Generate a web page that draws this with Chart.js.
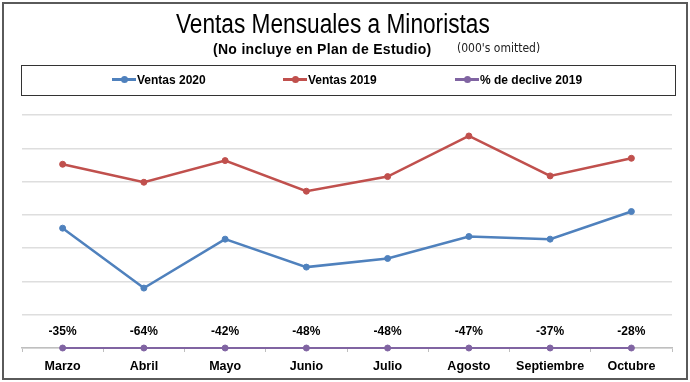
<!DOCTYPE html>
<html>
<head>
<meta charset="utf-8">
<script src="https://cdn.jsdelivr.net/npm/chart.js@4.4.0/dist/chart.umd.min.js"></script>
<style>
  body { margin: 0; background: #fff; }
  #marco { position: relative; width: 690px; height: 382px; overflow: hidden; font-family: 'Liberation Sans', Arial, sans-serif; }
  #borde { position: absolute; left: 2px; top: 2px; width: 682px; height: 374px; border: 2px solid #5a5a5a; }
  #titulo { position: absolute; left: 0; top: 9px; width: 666px; text-align: center; }
  #titulo span { display: inline-block; font-size: 27px; color: #000; transform: scaleX(0.84); }
  #subtitulo { position: absolute; left: 213px; top: 41px; font-weight: bold; font-size: 14px; letter-spacing: 0.3px; color: #000; }
  #omitido { position: absolute; left: 457px; top: 41px; font-family: 'Liberation Sans Narrow', 'DejaVu Sans Condensed', Arial, sans-serif; font-size: 12px; color: #222; }
  #leyenda { position: absolute; left: 21px; top: 65px; width: 653px; height: 29px; border: 1.5px solid #333; }
  .item { position: absolute; top: 7px; font-weight: bold; font-size: 12px; color: #000; white-space: nowrap; }
  .item i { display: inline-block; position: relative; width: 24px; height: 3px; vertical-align: middle; margin-right: 1px; top: -1px; }
  .item i b { position: absolute; left: 9px; top: -2px; width: 7px; height: 7px; border-radius: 50%; }
  #grafico { position: absolute; left: 0; top: 0; }
</style>
</head>
<body>
<div id="marco">
  <canvas id="grafico" width="690" height="382"></canvas>
  <div id="borde"></div>
  <div id="titulo"><span>Ventas Mensuales a Minoristas</span></div>
  <div id="subtitulo">(No incluye en Plan de Estudio)</div>
  <div id="omitido">(000's omitted)</div>
  <div id="leyenda"></div>
</div>
<script>
var meses = ['Marzo', 'Abril', 'Mayo', 'Junio', 'Julio', 'Agosto', 'Septiembre', 'Octubre'];
var ventas2020 = [3600, 1800, 3270, 2430, 2690, 3350, 3270, 4100];
var ventas2019 = [5520, 4980, 5630, 4710, 5150, 6370, 5170, 5700];
var declive2019 = [-35, -64, -42, -48, -48, -47, -37, -28];

var azul = '#4f81bd';
var rojo = '#c0504d';
var morado = '#8064a2';

// leyenda en html, con la linea y el punto
var series = [
    { nombre: 'Ventas 2020', color: azul, x: 112 },
    { nombre: 'Ventas 2019', color: rojo, x: 283 },
    { nombre: '% de declive 2019', color: morado, x: 455 }
];
var leyenda = document.getElementById('leyenda');
series.forEach(function (s) {
    var item = document.createElement('span');
    item.className = 'item';
    item.style.left = (s.x - 22) + 'px';
    item.innerHTML = '<i style="background:' + s.color + '"><b style="background:' + s.color + '"></b></i>' + s.nombre;
    leyenda.appendChild(item);
});

// etiquetas de porcentaje encima de la linea morada
var etiquetasPct = {
    id: 'etiquetasPct',
    afterDatasetsDraw: function (chart) {
        var ctx = chart.ctx;
        var meta = chart.getDatasetMeta(2);
        ctx.save();
        ctx.font = 'bold 12px "Liberation Sans", Arial, sans-serif';
        ctx.fillStyle = '#000';
        ctx.textAlign = 'center';
        ctx.textBaseline = 'middle';
        meta.data.forEach(function (p, i) {
            ctx.fillText(declive2019[i] + '%', p.x, p.y - 16);
        });
        ctx.restore();
    }
};

var grafico = document.getElementById('grafico').getContext('2d');
var criarGrafico = new Chart(grafico, {
    type: 'line',
    data: {
        labels: meses,
        datasets: [{
            label: 'Ventas 2020',
            data: ventas2020,
            borderColor: azul,
            backgroundColor: azul,
            borderWidth: 2.5,
            pointRadius: 3,
            pointBorderWidth: 1,
            tension: 0
        }, {
            label: 'Ventas 2019',
            data: ventas2019,
            borderColor: rojo,
            backgroundColor: rojo,
            borderWidth: 2.5,
            pointRadius: 3,
            pointBorderWidth: 1,
            tension: 0
        }, {
            label: '% de declive 2019',
            data: declive2019.map(function (v) { return v / 100; }),
            borderColor: morado,
            backgroundColor: morado,
            borderWidth: 2,
            pointRadius: 3,
            pointBorderWidth: 1,
            clip: false,
            tension: 0
        }]
    },
    options: {
        responsive: false,
        animation: false,
        layout: { padding: { top: 115, left: 22, right: 18, bottom: 1 } },
        plugins: {
            legend: { display: false },
            title: { display: false },
            tooltip: { enabled: false }
        },
        scales: {
            x: {
                offset: true,
                grid: { display: true, offset: true, drawOnChartArea: false, drawTicks: true, tickLength: 4, color: '#bfbfbf' },
                border: { display: true, color: '#bfbfbf', width: 1.5 },
                ticks: { color: '#000', padding: 7, font: { family: '"Liberation Sans", Arial, sans-serif', size: 12.5, weight: 'bold' } }
            },
            y: {
                min: 0,
                max: 7000,
                ticks: { display: false, stepSize: 1000 },
                grid: { color: '#dedede', lineWidth: 1.5, drawTicks: false },
                border: { display: false }
            }
        }
    },
    plugins: [etiquetasPct]
});
</script>
</body>
</html>
